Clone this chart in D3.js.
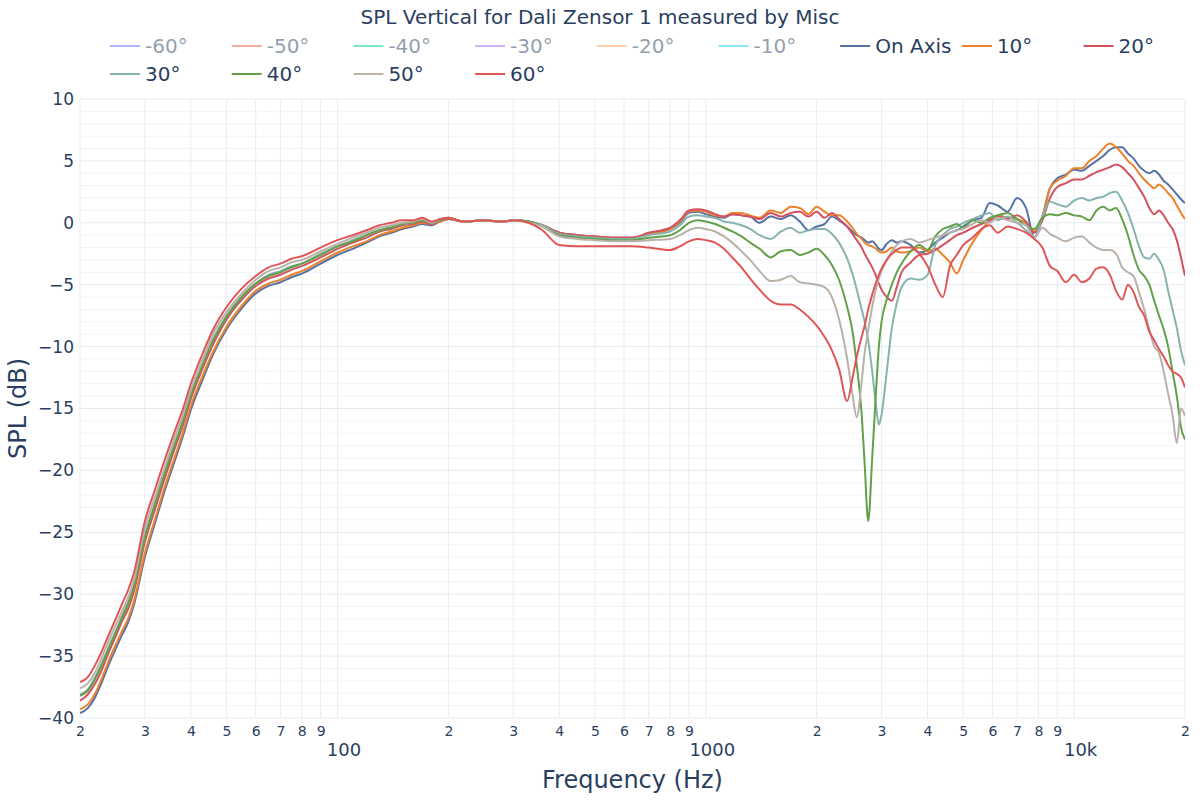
<!DOCTYPE html>
<html>
<head>
<meta charset="utf-8">
<script src="https://cdn.jsdelivr.net/npm/d3@7"></script>
<style>
  html, body { margin: 0; padding: 0; background: #fff; }
  svg { display: block; font-family: "DejaVu Sans", Verdana, sans-serif; }
</style>
</head>
<body>
<svg id="chart" width="1200" height="800"></svg>
<script>
// ---------------- data ----------------
const titleText = "SPL Vertical for Dali Zensor 1 measured by Misc";
const xTitle = "Frequency (Hz)";
const yTitle = "SPL (dB)";

const freqs = [
  20,21,22,23,24,25,26,27,28,30,32,34,36,38,40,43,46,50,55,60,65,70,75,80,90,100,110,120,130,140,150,160,170,180,190,200,
  220,250,280,300,330,360,400,450,500,560,630,700,800,850,900,950,1000,
  1060,1120,1180,1250,1320,1400,1500,1600,1700,1800,1900,2000,
  2100,2200,2300,2420,2500,2570,2650,2700,2760,2830,2900,2950,3000,3100,3200,3300,3400,
  3600,3800,4000,4200,4400,4600,4800,5000,5300,5600,5900,6200,6600,7000,7400,7800,8200,8600,9000,9500,10000,
  10500,11000,11500,12000,12500,13000,13500,14000,14500,15000,15500,16000,16500,17000,17500,18000,18500,19000,19500,20000
];

const onAxis = [
  -39.6,-39.2,-38.3,-37.0,-35.6,-34.4,-33.3,-32.3,-30.9,-27.0,-24.2,-21.6,-19.4,-17.3,-15.1,-12.7,-10.6,-8.6,-6.9,-5.7,-5.1,-4.8,-4.4,-4.1,-3.3,-2.6,-2.1,-1.6,-1.1,-0.8,-0.5,-0.3,-0.1,-0.2,0.1,0.3,
  0.1,0.2,0.1,0.2,0.1,-0.2,-0.8,-1.0,-1.1,-1.2,-1.2,-0.9,-0.5,0.0,0.8,0.9,0.7,
  0.5,0.4,0.7,0.6,0.5,0.0,0.5,0.3,0.6,0.1,-0.6,-0.3,
  -0.1,0.5,0.2,-0.3,-0.7,-1.0,-1.2,-1.4,-1.6,-1.5,-1.8,-2.1,-2.2,-1.7,-1.4,-1.6,-1.5,
  -1.8,-2.4,-2.2,-1.6,-1.2,-0.8,-0.6,-0.3,0.2,0.4,1.6,1.4,0.9,2.0,1.2,-1.2,0.5,2.8,3.6,3.9,4.3,
  4.2,4.6,5.0,5.4,5.9,6.1,6.1,5.6,5.2,4.6,4.2,4.0,4.2,3.9,3.4,3.1,2.7,2.3,1.9,1.6
];
const deg10 = [
  -39.3,-38.9,-38.0,-36.7,-35.3,-34.1,-33.0,-32.0,-30.6,-26.7,-23.9,-21.3,-19.1,-17.0,-14.8,-12.4,-10.4,-8.4,-6.7,-5.5,-4.9,-4.6,-4.2,-3.9,-3.1,-2.4,-1.9,-1.5,-1.0,-0.7,-0.4,-0.2,0.0,-0.1,0.1,0.3,
  0.1,0.2,0.1,0.2,0.1,-0.2,-0.8,-1.0,-1.1,-1.2,-1.2,-0.9,-0.5,0.1,0.9,1.0,0.9,
  0.6,0.5,0.8,0.8,0.6,0.4,1.0,0.8,1.3,1.2,0.7,1.3,
  0.9,0.6,0.6,0.1,-0.4,-0.9,-1.3,-1.6,-1.8,-1.9,-2.1,-2.3,-2.4,-2.3,-2.0,-2.3,-2.4,
  -2.3,-2.0,-2.3,-2.1,-2.6,-3.2,-4.1,-3.0,-1.6,-0.6,0.2,0.6,0.4,0.3,0.0,-0.7,0.5,2.8,3.4,3.8,4.4,
  4.4,5.0,5.4,6.0,6.4,6.1,5.6,5.0,4.6,4.0,3.5,3.1,2.8,3.1,2.8,2.4,2.0,1.4,0.8,0.3
];
const deg20 = [
  -38.6,-38.1,-37.2,-36.0,-34.6,-33.4,-32.2,-31.2,-29.8,-25.8,-23.1,-20.6,-18.4,-16.4,-14.2,-11.8,-9.8,-7.8,-6.2,-5.1,-4.5,-4.2,-3.8,-3.5,-2.8,-2.1,-1.6,-1.2,-0.7,-0.5,-0.2,-0.1,0.1,-0.1,0.2,0.3,
  0.1,0.2,0.1,0.2,0.1,-0.2,-0.8,-1.0,-1.1,-1.2,-1.2,-0.8,-0.4,0.2,1.0,1.1,1.0,
  0.7,0.5,0.7,0.6,0.5,0.3,0.8,0.5,0.8,0.9,0.5,0.9,
  0.4,0.8,0.3,-0.3,-0.9,-1.4,-2.0,-2.5,-3.0,-3.6,-4.3,-4.9,-5.4,-6.0,-6.3,-5.2,-4.0,
  -3.2,-2.6,-2.5,-2.2,-1.8,-1.4,-1.0,-0.8,-0.4,-0.1,0.2,0.5,0.3,0.6,0.1,-0.8,0.2,2.0,2.9,3.2,3.5,
  3.5,3.8,4.1,4.3,4.5,4.7,4.5,4.0,3.5,2.8,2.1,1.2,0.7,1.0,0.6,0.0,-0.5,-1.4,-2.8,-4.3
];
const deg30 = [
  -38.1,-37.7,-36.7,-35.5,-34.2,-33.0,-31.8,-30.7,-29.3,-25.3,-22.6,-20.1,-18.0,-16.0,-13.8,-11.4,-9.4,-7.5,-5.9,-4.9,-4.2,-3.9,-3.5,-3.3,-2.5,-1.9,-1.4,-1.0,-0.6,-0.3,-0.1,0.0,0.2,0.0,0.2,0.4,
  0.1,0.2,0.1,0.2,0.1,-0.2,-0.9,-1.1,-1.2,-1.3,-1.3,-1.0,-0.7,-0.2,0.5,0.6,0.5,
  0.4,0.1,0.0,-0.2,-0.5,-1.0,-1.3,-0.7,-0.4,-0.8,-0.6,-0.5,
  -0.5,-0.9,-1.6,-2.9,-4.1,-5.4,-7.0,-8.0,-9.5,-12.0,-14.8,-16.3,-15.5,-12.0,-8.5,-6.5,-5.2,
  -4.5,-4.6,-4.2,-1.8,-1.0,-0.5,-0.3,0.0,0.3,0.6,0.8,0.2,0.5,0.0,-0.6,-1.2,0.5,1.7,1.5,1.3,1.8,
  2.0,1.8,2.0,2.1,2.4,2.5,1.8,0.8,-0.5,-1.9,-2.8,-2.9,-2.5,-3.0,-3.8,-5.5,-7.0,-8.5,-10.3,-11.5
];
const deg40 = [
  -38.2,-37.8,-36.8,-35.6,-34.3,-33.1,-31.9,-30.8,-29.4,-25.4,-22.7,-20.2,-18.1,-16.1,-13.9,-11.5,-9.5,-7.6,-6.0,-4.9,-4.3,-4.0,-3.6,-3.3,-2.6,-1.9,-1.5,-1.0,-0.6,-0.4,-0.1,0.0,0.2,0.0,0.2,0.4,
  0.1,0.2,0.1,0.2,0.1,-0.3,-1.0,-1.2,-1.3,-1.4,-1.4,-1.2,-1.0,-0.6,0.0,0.2,0.1,
  -0.1,-0.4,-0.7,-1.1,-1.6,-2.1,-2.8,-2.3,-2.2,-2.6,-2.4,-2.1,
  -2.6,-3.4,-4.6,-6.8,-8.7,-11.5,-15.5,-19.5,-24.1,-19.0,-13.5,-10.0,-8.0,-6.2,-5.0,-4.0,-3.3,
  -2.3,-1.8,-2.2,-1.1,-0.5,-0.3,-0.1,-0.4,0.2,0.0,0.4,0.6,0.8,0.3,-0.2,-0.5,0.4,0.7,0.6,0.8,0.6,
  0.5,0.2,1.0,1.3,1.0,1.2,0.3,-1.0,-2.6,-3.8,-4.3,-5.0,-6.3,-7.5,-8.6,-10.0,-12.0,-14.0,-16.5,-17.5
];
const deg50 = [
  -37.6,-37.2,-36.3,-35.0,-33.7,-32.5,-31.4,-30.3,-28.9,-24.7,-22.1,-19.7,-17.5,-15.6,-13.5,-11.1,-9.0,-7.2,-5.7,-4.6,-3.9,-3.6,-3.2,-3.0,-2.3,-1.7,-1.2,-0.8,-0.4,-0.2,0.0,0.1,0.3,0.0,0.3,0.4,
  0.1,0.2,0.1,0.2,0.0,-0.3,-1.1,-1.3,-1.4,-1.5,-1.5,-1.4,-1.3,-1.0,-0.6,-0.4,-0.5,
  -0.7,-1.1,-1.6,-2.3,-3.0,-3.9,-4.7,-4.6,-4.3,-4.8,-4.9,-5.0,
  -5.2,-6.0,-7.8,-11.0,-13.8,-15.7,-12.8,-10.5,-8.7,-6.8,-5.3,-4.5,-3.9,-3.0,-2.3,-1.8,-1.5,
  -1.3,-1.6,-1.4,-1.2,-1.0,-0.8,-0.6,-0.5,-0.1,0.2,0.0,0.4,0.2,0.0,-0.2,-1.2,-0.4,-0.9,-1.2,-1.5,-1.2,
  -1.1,-1.6,-2.0,-2.2,-2.2,-2.5,-3.6,-4.0,-4.3,-5.6,-7.0,-8.6,-10.0,-10.5,-12.0,-13.8,-15.5,-17.8,-15.0,-15.6
];
const deg60 = [
  -37.1,-36.7,-35.7,-34.5,-33.2,-32.0,-30.8,-29.7,-28.3,-24.1,-21.5,-19.1,-17.0,-15.1,-13.0,-10.6,-8.6,-6.8,-5.3,-4.3,-3.6,-3.3,-2.9,-2.7,-2.0,-1.4,-1.0,-0.6,-0.2,0.0,0.2,0.2,0.4,0.1,0.3,0.4,
  0.1,0.2,0.1,0.2,0.0,-0.6,-1.8,-1.9,-1.9,-1.9,-1.9,-2.0,-2.2,-1.9,-1.5,-1.3,-1.4,
  -1.6,-2.1,-2.8,-3.6,-4.5,-5.4,-6.3,-6.6,-6.6,-7.0,-7.6,-8.3,
  -9.2,-10.3,-11.8,-14.4,-12.6,-10.8,-9.2,-8.3,-7.0,-5.8,-4.8,-4.2,-3.7,-3.0,-2.5,-2.2,-2.0,
  -2.0,-2.5,-3.5,-5.0,-6.0,-3.5,-2.6,-1.8,-1.2,-0.5,-0.2,-0.8,-0.3,-0.5,-0.8,-1.3,-2.0,-3.5,-3.9,-4.8,-4.2,
  -4.8,-4.5,-3.7,-3.6,-4.2,-5.5,-6.2,-5.0,-5.6,-6.8,-7.5,-8.8,-9.5,-10.2,-10.8,-11.5,-12.0,-12.2,-12.5,-13.3
];

const legendNames  = ["-60°","-50°","-40°","-30°","-20°","-10°","On Axis","10°","20°","30°","40°","50°","60°"];
const legendColors = ["#636efa","#ef553b","#00cc96","#ab63fa","#ffa15a","#19d3f3","#5672a3","#ea842c","#d4525f","#86b3ad","#62a04a","#bab1ab","#e05656"];
const legendHidden = [true,true,true,true,true,true,false,false,false,false,false,false,false];
const visibleSeries = [onAxis, deg10, deg20, deg30, deg40, deg50, deg60];

const yTicks = [-40,-35,-30,-25,-20,-15,-10,-5,0,5,10];
const yMinor = d3.range(-40, 11, 1);
const minorX = [20,30,40,50,60,70,80,90,200,300,400,500,600,700,800,900,2000,3000,4000,5000,6000,7000,8000,9000,20000];
const majorX = [100, 1000, 10000];
const majorXLabels = ["100", "1000", "10k"];

// ---------------- layout ----------------
const svg = d3.select("#chart");
const L = 80, R = 1185, T = 99, B = 718;
const textColor = "#2a3f5f";

const x = d3.scaleLog().domain([20, 20000]).range([L, R]);
const y = d3.scaleLinear().domain([-40, 10]).range([B, T]);

svg.append("rect").attr("width", 1200).attr("height", 800).attr("fill", "#fff");

// grid
const grid = svg.append("g");
grid.selectAll("line.ym").data(yMinor.filter(v => v % 5 !== 0)).join("line")
  .attr("x1", L).attr("x2", R).attr("y1", d => y(d)).attr("y2", d => y(d))
  .attr("stroke", "#f1f4f9").attr("stroke-width", 1);
grid.selectAll("line.xg").data(minorX.concat(majorX)).join("line")
  .attr("y1", T).attr("y2", B).attr("x1", d => x(d)).attr("x2", d => x(d))
  .attr("stroke", "#e8edf5").attr("stroke-width", 1);
grid.selectAll("line.yM").data(yTicks).join("line")
  .attr("x1", L).attr("x2", R).attr("y1", d => y(d)).attr("y2", d => y(d))
  .attr("stroke", "#e5eaf2").attr("stroke-width", 1);

// lines
svg.append("clipPath").attr("id", "clip").append("rect")
  .attr("x", L).attr("y", T - 2).attr("width", R - L).attr("height", B - T + 4);
const line = d3.line().x(d => x(d[0])).y(d => y(d[1])).curve(d3.curveMonotoneX);
const plot = svg.append("g").attr("clip-path", "url(#clip)");
visibleSeries.forEach((vals, i) => {
  plot.append("path")
    .datum(freqs.map((f, j) => [f, vals[j]]))
    .attr("fill", "none")
    .attr("stroke", legendColors[6 + i])
    .attr("stroke-width", 2)
    .attr("stroke-linejoin", "round")
    .attr("d", line);
});

// y axis
const yAxis = svg.append("g").attr("transform", `translate(${L},0)`)
  .call(d3.axisLeft(y).tickValues(yTicks).tickSize(0).tickPadding(6));
yAxis.select(".domain").remove();
yAxis.selectAll("text").attr("font-size", 17).attr("fill", textColor)
  .attr("font-family", "DejaVu Sans, Verdana, sans-serif");

// x axis minor labels
const xAxis = svg.append("g").attr("transform", `translate(0,${B})`)
  .call(d3.axisBottom(x).tickValues(minorX).tickSize(0).tickPadding(8)
    .tickFormat(d => String(d).charAt(0)));
xAxis.select(".domain").remove();
xAxis.selectAll("text").attr("font-size", 14).attr("fill", textColor)
  .attr("font-family", "DejaVu Sans, Verdana, sans-serif");

// x axis major labels
const xAxis2 = svg.append("g").attr("transform", `translate(6,${B})`)
  .call(d3.axisBottom(x).tickValues(majorX).tickSize(0).tickPadding(25)
    .tickFormat((d, i) => majorXLabels[i]));
xAxis2.select(".domain").remove();
xAxis2.selectAll("text").attr("font-size", 18).attr("fill", textColor)
  .attr("font-family", "DejaVu Sans, Verdana, sans-serif");

// titles
svg.append("text").attr("x", 600).attr("y", 24).attr("text-anchor", "middle")
  .attr("font-size", 20).attr("fill", textColor).text(titleText);
svg.append("text").attr("x", (L + R) / 2).attr("y", 788).attr("text-anchor", "middle")
  .attr("font-size", 24).attr("fill", textColor).text(xTitle);
svg.append("text").attr("transform", `translate(26,${(T + B) / 2}) rotate(-90)`)
  .attr("text-anchor", "middle").attr("font-size", 24).attr("fill", textColor).text(yTitle);

// legend
const legend = svg.append("g");
legendNames.forEach((name, i) => {
  const col = i % 9, row = Math.floor(i / 9);
  const gx = 105 + col * 121.7, gy = 46 + row * 28;
  const g = legend.append("g").attr("transform", `translate(${gx},${gy})`)
    .attr("opacity", legendHidden[i] ? 0.5 : 1);
  g.append("line").attr("x1", 5).attr("x2", 35).attr("y1", 0).attr("y2", 0)
    .attr("stroke", legendColors[i]).attr("stroke-width", 2);
  g.append("text").attr("x", 40).attr("y", 0).attr("dy", "0.35em")
    .attr("font-size", 20).attr("fill", textColor).text(name);
});
</script>
</body>
</html>
